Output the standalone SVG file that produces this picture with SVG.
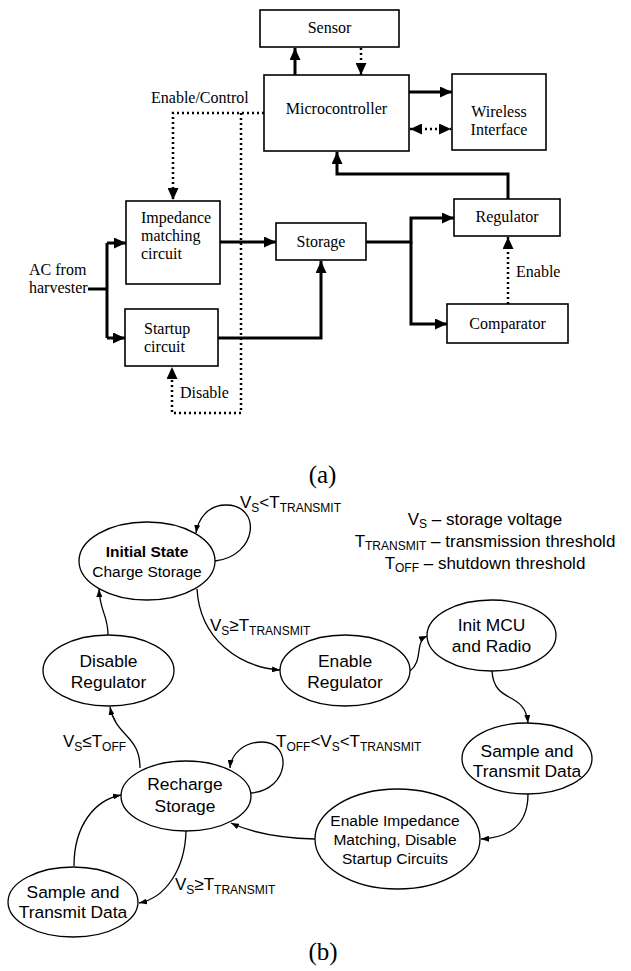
<svg xmlns="http://www.w3.org/2000/svg" width="631" height="971" viewBox="0 0 631 971">
<style>
.box{fill:#fff;stroke:#000;stroke-width:1.6}
.thick{fill:none;stroke:#000;stroke-width:3}
.dot{fill:none;stroke:#000;stroke-width:2.5;stroke-dasharray:2 3}
.serif{font-family:"Liberation Serif","Times New Roman",serif;font-size:16px;fill:#000}
.mid{text-anchor:middle}
.cap{font-family:"Liberation Serif","Times New Roman",serif;font-size:25px;fill:#000;text-anchor:middle}
.st{fill:#fff;stroke:#000;stroke-width:1.3}
.edge{fill:none;stroke:#000;stroke-width:1.3}
.sans{font-family:"Liberation Sans",Arial,sans-serif;fill:#000}
.stxt{font-size:17.4px;text-anchor:middle}
.lbl{font-size:17px}
.sub{font-size:12px}
</style>
<defs>
<marker id="big" markerUnits="userSpaceOnUse" markerWidth="12" markerHeight="11" refX="12" refY="5.5" orient="auto-start-reverse" viewBox="0 0 12 11">
<path d="M0,0 L12,5.5 L0,11 z" fill="#000"/>
</marker>
<marker id="sm" markerUnits="userSpaceOnUse" markerWidth="8" markerHeight="6" refX="8" refY="3" orient="auto" viewBox="0 0 8 6">
<path d="M0,0 L8,3 L0,6 z" fill="#000"/>
</marker>
</defs>
<rect width="631" height="971" fill="#fff"/>

<g id="connectors-a">
<path class="thick" d="M295,75 V48" marker-end="url(#big)"/>
<path class="dot" d="M361,48 V75" marker-end="url(#big)"/>
<path class="thick" d="M409,92 H452" marker-end="url(#big)"/>
<path class="dot" d="M410,129 H451" marker-start="url(#big)" marker-end="url(#big)"/>
<path class="thick" d="M508,199 V174 H337 V152" marker-end="url(#big)"/>
<path class="thick" d="M366,242 H411 V218 H454" marker-end="url(#big)"/>
<path class="thick" d="M411,242 V324 H447" marker-end="url(#big)"/>
<path class="dot" d="M508,304 V237" marker-end="url(#big)"/>
<path class="thick" d="M88,289 H107"/>
<path class="thick" d="M107,243 V338"/>
<path class="thick" d="M107,243 H126" marker-end="url(#big)"/>
<path class="thick" d="M107,338 H125" marker-end="url(#big)"/>
<path class="thick" d="M220,242 H276" marker-end="url(#big)"/>
<path class="thick" d="M218,338 H321 V261" marker-end="url(#big)"/>
<path class="dot" d="M264,113 H173 V200" marker-end="url(#big)"/>
<path class="dot" d="M241,113 V413 H172 V367" marker-end="url(#big)"/>
</g>

<g id="sensor"><rect class="box" x="260" y="10" width="139" height="37"/><text class="serif mid" x="329.5" y="33">Sensor</text></g>
<g id="microcontroller"><rect class="box" x="264" y="75" width="145" height="76"/><text class="serif mid" x="336.5" y="114">Microcontroller</text></g>
<g id="wireless"><rect class="box" x="452" y="74" width="94" height="76"/><text class="serif mid" x="499" y="117">Wireless</text><text class="serif mid" x="499" y="135">Interface</text></g>
<g id="impedance"><rect class="box" x="126" y="201" width="94" height="83"/><text class="serif" x="141" y="223">Impedance</text><text class="serif" x="141" y="241">matching</text><text class="serif" x="141" y="259">circuit</text></g>
<g id="startup"><rect class="box" x="125" y="309" width="93" height="57"/><text class="serif" x="144" y="334">Startup</text><text class="serif" x="144" y="352">circuit</text></g>
<g id="storage"><rect class="box" x="276" y="223" width="90" height="37"/><text class="serif mid" x="321" y="247">Storage</text></g>
<g id="regulator"><rect class="box" x="454" y="199" width="106" height="37"/><text class="serif mid" x="507" y="222">Regulator</text></g>
<g id="comparator"><rect class="box" x="447" y="304" width="121" height="39"/><text class="serif mid" x="507.5" y="329">Comparator</text></g>
<g id="labels-a">
<text class="serif" x="151" y="103">Enable/Control</text>
<text class="serif" x="29" y="275">AC from</text>
<text class="serif" x="29" y="293">harvester</text>
<text class="serif" x="516" y="277">Enable</text>
<text class="serif" x="180" y="398">Disable</text>
<text class="cap" x="322.5" y="483">(a)</text>
</g>

<g id="connectors-b">
<path class="edge" d="M215,561 C258,556 262,505 226,505 C207,505 198,520 196,533" marker-end="url(#sm)"/>
<path class="edge" d="M197,589 C200,640 240,667 280,670" marker-end="url(#sm)"/>
<path class="edge" d="M410,671 C424,660 414,642 427,636" marker-end="url(#sm)"/>
<path class="edge" d="M492,671 C494,705 525,690 528,723" marker-end="url(#sm)"/>
<path class="edge" d="M528,794 C528,828 505,838 481,839" marker-end="url(#sm)"/>
<path class="edge" d="M315,839 C275,838 250,832 231,823" marker-end="url(#sm)"/>
<path class="edge" d="M251,793 C290,790 293,742 262,742 C243,742 231,755 230,768" marker-end="url(#sm)"/>
<path class="edge" d="M140,768 C140,735 116,737 110,707" marker-end="url(#sm)"/>
<path class="edge" d="M108,635 C108,615 100,612 99,589" marker-end="url(#sm)"/>
<path class="edge" d="M74,866 C74,825 95,800 121,795" marker-end="url(#sm)"/>
<path class="edge" d="M186,831 C185,870 165,898 139,903" marker-end="url(#sm)"/>
</g>

<g id="initial"><ellipse class="st" cx="147" cy="561" rx="68" ry="39"/><text class="sans" x="147" y="557" text-anchor="middle" font-size="15.5" font-weight="bold">Initial State</text><text class="sans" x="147" y="577" text-anchor="middle" font-size="15.5">Charge Storage</text></g>
<g id="disable-reg"><ellipse class="st" cx="108.5" cy="670.5" rx="65.5" ry="35.5"/><text class="sans stxt" x="108.5" y="667">Disable</text><text class="sans stxt" x="108.5" y="688">Regulator</text></g>
<g id="enable-reg"><ellipse class="st" cx="345" cy="670.5" rx="65" ry="35.5"/><text class="sans stxt" x="345" y="667">Enable</text><text class="sans stxt" x="345" y="688">Regulator</text></g>
<g id="init-mcu"><ellipse class="st" cx="491.5" cy="635.5" rx="64.5" ry="35.5"/><text class="sans stxt" x="491.5" y="631">Init MCU</text><text class="sans stxt" x="491.5" y="652">and Radio</text></g>
<g id="sample-right"><ellipse class="st" cx="527" cy="758.5" rx="65" ry="35.5"/><text class="sans stxt" x="527" y="757">Sample and</text><text class="sans stxt" x="527" y="777">Transmit Data</text></g>
<g id="enable-imp"><ellipse class="st" cx="397.5" cy="839" rx="82.5" ry="50"/><text class="sans" x="395" y="826" text-anchor="middle" font-size="15.5">Enable Impedance</text><text class="sans" x="395" y="845" text-anchor="middle" font-size="15.5">Matching, Disable</text><text class="sans" x="395" y="864" text-anchor="middle" font-size="15.5">Startup Circuits</text></g>
<g id="recharge"><ellipse class="st" cx="186" cy="796" rx="65" ry="35"/><text class="sans stxt" x="185" y="790">Recharge</text><text class="sans stxt" x="185" y="812">Storage</text></g>
<g id="sample-left"><ellipse class="st" cx="73" cy="902" rx="65" ry="35"/><text class="sans stxt" x="73" y="898">Sample and</text><text class="sans stxt" x="73" y="918">Transmit Data</text></g>

<g id="labels-b">
<text class="sans lbl" x="240" y="508">V<tspan class="sub" dy="4">S</tspan><tspan dy="-4">&lt;T</tspan><tspan class="sub" dy="4">TRANSMIT</tspan></text>
<text class="sans lbl" x="210" y="631">V<tspan class="sub" dy="4">S</tspan><tspan dy="-4">≥T</tspan><tspan class="sub" dy="4">TRANSMIT</tspan></text>
<text class="sans lbl" x="63" y="747">V<tspan class="sub" dy="4">S</tspan><tspan dy="-4">≤T</tspan><tspan class="sub" dy="4">OFF</tspan></text>
<text class="sans lbl" x="276" y="747">T<tspan class="sub" dy="4">OFF</tspan><tspan dy="-4">&lt;V</tspan><tspan class="sub" dy="4">S</tspan><tspan dy="-4">&lt;T</tspan><tspan class="sub" dy="4">TRANSMIT</tspan></text>
<text class="sans lbl" x="175" y="890">V<tspan class="sub" dy="4">S</tspan><tspan dy="-4">≥T</tspan><tspan class="sub" dy="4">TRANSMIT</tspan></text>
<text class="sans lbl" x="485" y="525" text-anchor="middle">V<tspan class="sub" dy="3">S</tspan><tspan dy="-3"> – storage voltage</tspan></text>
<text class="sans lbl" x="485" y="547" text-anchor="middle">T<tspan class="sub" dy="3">TRANSMIT</tspan><tspan dy="-3"> – transmission threshold</tspan></text>
<text class="sans lbl" x="485" y="569" text-anchor="middle">T<tspan class="sub" dy="3">OFF</tspan><tspan dy="-3"> – shutdown threshold</tspan></text>
<text class="cap" x="323" y="960">(b)</text>
</g>
</svg>
